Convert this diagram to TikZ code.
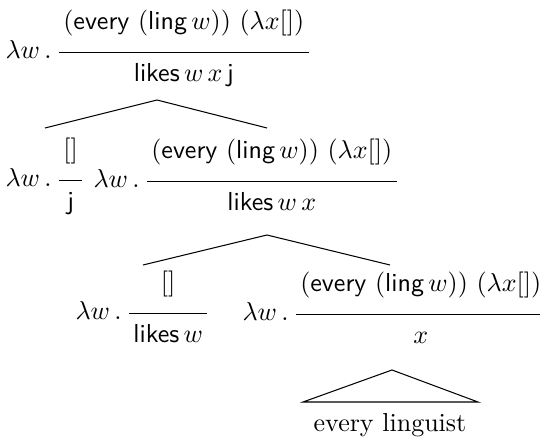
\documentclass[tikz,border=0pt]{standalone}
\usepackage{amsmath}
\newcommand{\semfrac}[2]{\dfrac{\,#1\,\rule[-7.5pt]{0pt}{0pt}}{\rule{0pt}{9.8pt}\,#2\,}}
\newcommand{\evling}{(\textsf{every}\ (\textsf{ling}\,w))\ (\lambda x[])}
\begin{document}
\begin{tikzpicture}[x=0.3846pt, y=-0.3846pt,
    sem/.style={anchor=base west, inner sep=0pt},
    branch/.style={draw, line width=0.4pt, line join=miter}
  ]
  \useasboundingbox (0,0) rectangle (540,440);
  \node[sem] (top) at (5,59) {$\lambda w\,.\,\semfrac{\evling}{\textsf{likes}\,w\,x\,\textsf{j}}$};

  \node[sem] (subj) at (5,187) {$\lambda w\,.\,\semfrac{[]}{\textsf{j}}$};
  \node[sem] (vp) at (93,188) {$\lambda w\,.\,\semfrac{\evling}{\textsf{likes}\,w\,x}$};

  \node[sem] (verb) at (75,320) {$\lambda w\,.\,\semfrac{[]}{\textsf{likes}\,w}$};
  \node[sem] (obj) at (242,321) {$\lambda w\,.\,\semfrac{\evling}{x}$};

  \node (words) at (390,425) {every linguist};

  % branches
  \coordinate (top-b) at (157,100);
  \coordinate (subj-t) at (45,128);
  \coordinate (vp-t) at (267,128);
  \coordinate (vp-b) at (267,235);
  \coordinate (verb-t) at (143,265);
  \coordinate (obj-t) at (390,265);
  \draw[branch] (subj-t) -- (top-b) -- (vp-t);
  \draw[branch] (verb-t) -- (vp-b) -- (obj-t);

  % roof over the object
  \coordinate (roof) at (392,370);
  \draw[branch] (303,402) -- (roof) -- (478,402) -- cycle;
\end{tikzpicture}
\end{document}
